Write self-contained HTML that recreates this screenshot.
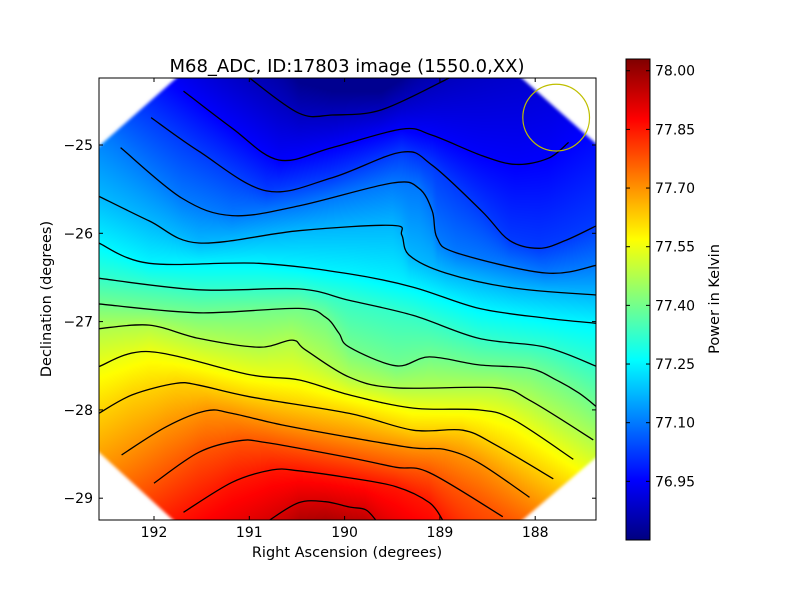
<!DOCTYPE html>
<html><head><meta charset="utf-8"><style>
html,body{margin:0;padding:0;background:#fff;}
#wrap{position:relative;width:800px;height:600px;overflow:hidden;font-family:"DejaVu Sans","Liberation Sans",sans-serif;}
canvas{position:absolute;}
svg{position:absolute;left:0;top:0;}
</style></head><body>
<div id="wrap">
<canvas id="field" width="497" height="442" style="left:99px;top:78px"></canvas>
<svg id="svg" width="800" height="600"></svg>
</div>
<script>
// ---- data ----
const levels = [76.875,76.95,77.025,77.10,77.175,77.25,77.325,77.40,77.475,77.55,77.625,77.70,77.775,77.85,77.925];
const contourRA = [
[191.00,190.48,190.13,189.61,188.90],
[191.69,191.18,190.69,190.13,189.40,189.08,188.56,188.20,187.86,187.65],
[192.03,191.53,190.82,190.13,189.40,189.08,188.56,188.27,187.96,187.68,187.35],
[192.35,191.71,191.18,190.48,189.50,189.22,189.08,189.03,188.83,187.89,187.35],
[192.58,192.05,191.53,190.48,189.50,189.40,189.32,188.94,188.23,187.35],
[192.58,192.05,190.90,189.95,189.28,188.59,187.89,187.35],
[192.58,191.53,190.48,189.95,189.28,188.59,187.89,187.35],
[192.58,191.53,190.48,190.20,190.06,189.95,189.46,189.11,188.59,188.06,187.78,187.54,187.35],
[192.58,192.05,191.53,190.90,190.55,190.41,189.95,189.46,188.41,188.06,187.39],
[192.58,192.05,191.00,190.48,189.95,189.28,188.59,188.23,187.60],
[192.58,192.23,191.77,191.53,191.00,189.95,189.28,188.76,188.41,187.81],
[192.34,191.87,191.45,191.18,190.66,189.95,189.28,188.94,188.59,188.06],
[192.00,191.53,191.11,190.82,189.95,189.46,189.11,188.34],
[191.69,191.18,190.76,190.48,189.95,189.46,189.11,188.97],
[190.79,190.48,190.20,189.95,189.78,189.67]
];
const contourDec = [
[-24.24,-24.64,-24.66,-24.60,-24.24],
[-24.39,-24.81,-25.17,-25.03,-24.82,-24.89,-25.12,-25.22,-25.15,-24.97],
[-24.69,-25.07,-25.52,-25.37,-25.08,-25.23,-25.75,-26.08,-26.17,-26.08,-25.91],
[-25.03,-25.60,-25.80,-25.69,-25.43,-25.49,-25.75,-26.05,-26.22,-26.45,-26.36],
[-25.58,-25.86,-26.11,-25.97,-25.91,-26.02,-26.25,-26.45,-26.62,-26.70],
[-26.11,-26.34,-26.34,-26.46,-26.61,-26.85,-26.96,-27.02],
[-26.51,-26.64,-26.63,-26.76,-26.93,-27.19,-27.29,-27.51],
[-26.80,-26.90,-26.85,-26.95,-27.13,-27.29,-27.50,-27.40,-27.49,-27.53,-27.66,-27.81,-27.97],
[-27.08,-27.04,-27.19,-27.29,-27.21,-27.32,-27.63,-27.75,-27.75,-27.89,-28.34],
[-27.51,-27.34,-27.60,-27.66,-27.83,-27.98,-28.00,-28.11,-28.56],
[-28.04,-27.83,-27.70,-27.72,-27.85,-28.04,-28.23,-28.23,-28.40,-28.78],
[-28.51,-28.19,-28.01,-28.04,-28.17,-28.31,-28.43,-28.45,-28.60,-28.99],
[-28.83,-28.48,-28.35,-28.37,-28.54,-28.65,-28.71,-29.21],
[-29.16,-28.82,-28.68,-28.69,-28.77,-28.87,-29.05,-29.25],
[-29.25,-29.05,-29.04,-29.10,-29.13,-29.25]
];
const raTicks = [192,191,190,189,188];
const decTicks = [-25,-26,-27,-28,-29];
const cbarTicks = [76.95,77.10,77.25,77.40,77.55,77.70,77.85,78.00];
const cbarRange = [76.80,78.03];
const beamRA = [187.78];
const beamDec = [-24.69];
const beamRadius = [0.35];

// ---- scales ----
const PL=99, PT=78, PW=497, PH=442;
const xs = ra => 154 + (192 - ra) * 95.3;
const ys = dec => 145 + (-25 - dec) * 88.3;
const cbTop=59, cbBot=540, cbL=626, cbR=650;
const cs = v => cbBot - (v - cbarRange[0]) / (cbarRange[1]-cbarRange[0]) * (cbBot-cbTop);
function jet(t){t=Math.max(0,Math.min(1,t));const c=v=>Math.round(255*Math.max(0,Math.min(1,v)));
 return [c(1.5-Math.abs(4*t-3)),c(1.5-Math.abs(4*t-2)),c(1.5-Math.abs(4*t-1))];}
const norm = v => (v-cbarRange[0])/(cbarRange[1]-cbarRange[0]);

// contour pixel polylines
const polys = contourRA.map((r,i)=>r.map((ra,j)=>[xs(ra), ys(contourDec[i][j])]));
// extended copies (field computation only) so field has no seams
const ext = polys.map(p=>{const n=p.length;
 const a=p[0],b=p[1],c=p[n-2],d=p[n-1];
 const sl=(b[1]-a[1])/((b[0]-a[0])||1), sr=(d[1]-c[1])/((d[0]-c[0])||1);
 const L=Math.max(0,a[0]-(PL-200)), R=Math.max(0,(PL+PW+200)-d[0]);
 return [[a[0]-L,a[1]-sl*L]].concat(p,[[d[0]+R,d[1]+sr*R]]);});

// ---- field ----
const cv=document.getElementById('field'), ctx=cv.getContext('2d');
const img=ctx.createImageData(PW,PH);
for(let px=0;px<PW;px++){
  const X=PL+px+0.5; const list=[];
  ext.forEach((p,i)=>{
    for(let k=0;k<p.length-1;k++){ if(X>=p[k][0]&&X<=p[k+1][0]){const f=(X-p[k][0])/(p[k+1][0]-p[k][0]||1); list.push([p[k][1]+f*(p[k+1][1]-p[k][1]),levels[i]]); break;} }
  });
  list.sort((a,b)=>a[0]-b[0]);
  for(let py=0;py<PH;py++){
    const Y=PT+py+0.5; let v;
    if(list.length<2){v=77.4;}
    else if(Y<=list[0][0]){const s=(list[1][1]-list[0][1])/Math.max(25,list[1][0]-list[0][0]); v=list[0][1]-s*(list[0][0]-Y);}
    else if(Y>=list[list.length-1][0]){const n=list.length; const s=(list[n-1][1]-list[n-2][1])/Math.max(25,list[n-1][0]-list[n-2][0]); v=list[n-1][1]+s*(Y-list[n-1][0]);}
    else{for(let k=0;k<list.length-1;k++){if(Y>=list[k][0]&&Y<=list[k+1][0]){const f=(Y-list[k][0])/(list[k+1][0]-list[k][0]||1); v=list[k][1]+f*(list[k+1][1]-list[k][1]);break;}}}
    v=Math.max(76.82,Math.min(78.01,v));
    const c=jet(norm(v)); const o=(py*PW+px)*4;
    img.data[o]=c[0];img.data[o+1]=c[1];img.data[o+2]=c[2];img.data[o+3]=255;
  }
}
ctx.putImageData(img,0,0);
ctx.filter='blur(1.5px)'; ctx.fillStyle='#fff';
[[[-20,-20],[100,-20],[-20,86]],[[400,-20],[520,-20],[520,86]],[[-20,356],[-20,462],[96,462]],[[520,360],[520,462],[400,462]]].forEach(t=>{
  ctx.beginPath(); ctx.moveTo(t[0][0],t[0][1]); t.slice(1).forEach(q=>ctx.lineTo(q[0],q[1])); ctx.closePath(); ctx.fill();});
ctx.filter='none';

// ---- svg ----
const NS='http://www.w3.org/2000/svg', svg=document.getElementById('svg');
function mk(tag,attrs,parent){const e=document.createElementNS(NS,tag);for(const k in attrs)e.setAttribute(k,attrs[k]);(parent||svg).appendChild(e);return e;}
const defs=mk('defs',{});
const cp=mk('clipPath',{id:'pc'},defs); mk('rect',{x:PL,y:PT,width:PW,height:PH},cp);
const cg=mk('g',{'clip-path':'url(#pc)'});


function smooth(p){let d='M'+p[0][0].toFixed(1)+','+p[0][1].toFixed(1);
 for(let i=0;i<p.length-1;i++){const p0=p[Math.max(0,i-1)],p1=p[i],p2=p[i+1],p3=p[Math.min(p.length-1,i+2)];
  const c1=[p1[0]+(p2[0]-p0[0])/6,p1[1]+(p2[1]-p0[1])/6],c2=[p2[0]-(p3[0]-p1[0])/6,p2[1]-(p3[1]-p1[1])/6];
  d+=' C'+c1[0].toFixed(1)+','+c1[1].toFixed(1)+' '+c2[0].toFixed(1)+','+c2[1].toFixed(1)+' '+p2[0].toFixed(1)+','+p2[1].toFixed(1);}
 return d;}
polys.forEach((p,i)=>{const e=mk('path',{d:smooth(p),fill:'none',stroke:'#000','stroke-width':1.3},cg);
 
 });
const circ=mk('circle',{cx:xs(beamRA[0]),cy:ys(beamDec[0]),r:beamRadius[0]*95.3,fill:'none',stroke:'#bfbf00','stroke-width':1.2},cg);



const frame=mk('rect',{x:PL,y:PT,width:PW,height:PH,fill:'none',stroke:'#000','stroke-width':1});


const tf='font-family:"DejaVu Sans","Liberation Sans",sans-serif';
raTicks.forEach(t=>{const x=xs(t);
 mk('line',{x1:x,x2:x,y1:PT+PH,y2:PT+PH-4,stroke:'#000'}); mk('line',{x1:x,x2:x,y1:PT,y2:PT+4,stroke:'#000'});
 const e=mk('text',{x:x,y:537,'text-anchor':'middle','font-size':14,style:tf}); e.textContent=String(t);
 
 });
decTicks.forEach(t=>{const y=ys(t);
 mk('line',{x1:PL,x2:PL+4,y1:y,y2:y,stroke:'#000'}); mk('line',{x1:PL+PW,x2:PL+PW-4,y1:y,y2:y,stroke:'#000'});
 const e=mk('text',{x:93,y:y+5,'text-anchor':'end','font-size':14,style:tf}); e.textContent='\u2212'+Math.abs(t);
 
 });

// colorbar
const lg=mk('linearGradient',{id:'cb',x1:0,y1:1,x2:0,y2:0},defs);
for(let i=0;i<=40;i++){const c=jet(i/40);mk('stop',{offset:i/40,'stop-color':'rgb('+c.join(',')+')'},lg);}
const cb=mk('rect',{x:cbL,y:cbTop,width:cbR-cbL,height:cbBot-cbTop,fill:'url(#cb)',stroke:'#000','stroke-width':1});


cbarTicks.forEach(t=>{const y=cs(t);
 mk('line',{x1:cbR,x2:cbR-4,y1:y,y2:y,stroke:'#000'});mk('line',{x1:cbL,x2:cbL+4,y1:y,y2:y,stroke:'#000'});
 const e=mk('text',{x:655,y:y+5,'font-size':14,style:tf}); e.textContent=t.toFixed(2);
 
 });
</script>
<svg width="800" height="600" style="position:absolute;left:0;top:0">
<text x="347" y="72" text-anchor="middle" font-size="18" style="font-family:'DejaVu Sans','Liberation Sans',sans-serif">M68_ADC, ID:17803 image (1550.0,XX)</text>
<text x="347" y="557" text-anchor="middle" font-size="14.5" style="font-family:'DejaVu Sans','Liberation Sans',sans-serif">Right Ascension (degrees)</text>
<text x="0" y="0" transform="translate(51,299) rotate(-90)" text-anchor="middle" font-size="14.5" style="font-family:'DejaVu Sans','Liberation Sans',sans-serif">Declination (degrees)</text>
<text x="0" y="0" transform="translate(719,299) rotate(-90)" text-anchor="middle" font-size="14.5" style="font-family:'DejaVu Sans','Liberation Sans',sans-serif">Power in Kelvin</text>
</svg>
</body></html>
